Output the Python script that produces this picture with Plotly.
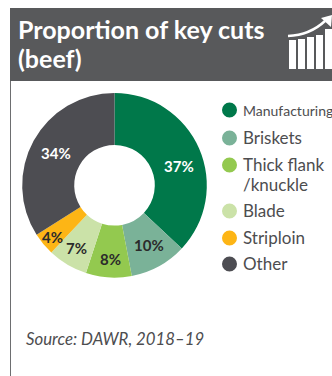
import math

import plotly.graph_objects as go

W, H = 332, 376

title_lines = ["Proportion of key cuts", "(beef)"]
cuts = ["Manufacturing", "Briskets", "Thick flank<br>/knuckle", "Blade", "Striploin", "Other"]
shares = [37, 10, 8, 7, 4, 34]
colours = ["#00784a", "#7ab298", "#93c94f", "#cbe2a8", "#fdb515", "#4d4d52"]
label_colours = ["#ffffff", "#2b2b2b", "#2b2b2b", "#2b2b2b", "#2b2b2b", "#ffffff"]

# layout of the legend, the share labels and the header icon, in pixels
legend_rows = [110, 138, 165, 211, 238, 264]
text_rows = [110, 137.5, 164.5, 210.5, 237.5, 263.5]
text_sizes = [14, 17, 17, 17, 17, 17]
label_nudges = [(4, 7), (3, 2), (0, 8), (-4, 6), (-11, 9), (0, 0)]
icon_bars = [(289, 296, 40), (298, 305, 39), (307, 314, 37), (316, 323, 35), (325, 332, 29)]

FONT = "Lato, 'Open Sans', sans-serif"
GREY = "#58595b"
CX, CY, R_OUT, R_IN = 114.5, 185.3, 92.3, 40.3


def px(x):
    return x / W


def py(y):
    return 1 - y / H


shapes = [
    dict(type="rect", xref="paper", yref="paper", x0=px(10), x1=px(W), y0=py(81), y1=py(8),
         fillcolor=GREY, line_width=0, layer="below"),
    dict(type="line", xref="paper", yref="paper", x0=px(10.5), x1=px(10.5), y0=py(81), y1=0,
         line=dict(color="#6d6e70", width=1)),
]

# header icon: columns under a rising arrow
for x0, x1, top in icon_bars:
    shapes.append(dict(type="rect", xref="paper", yref="paper", x0=px(x0), x1=px(x1),
                       y0=py(69), y1=py(top), fillcolor="#ffffff", line_width=0))
shapes.append(dict(type="path", xref="paper", yref="paper",
                   path=f"M {px(288)} {py(36)} Q {px(310)} {py(35)} {px(325)} {py(21)}",
                   line=dict(color="#ffffff", width=2.5)))
shapes.append(dict(type="path", xref="paper", yref="paper",
                   path=f"M {px(321)} {py(18)} L {px(332)} {py(15)} L {px(331)} {py(27)} Z",
                   fillcolor="#ffffff", line_width=0))

# legend swatches
for colour, cy in zip(colours, legend_rows):
    shapes.append(dict(type="circle", xref="paper", yref="paper",
                       x0=px(222), x1=px(237), y0=py(cy + 7.5), y1=py(cy - 7.5),
                       fillcolor=colour, line_width=0))

annotations = [
    dict(text="<i>Source: DAWR, 2018–19</i>", x=px(24), y=py(338), xref="paper", yref="paper",
         xanchor="left", yanchor="middle", showarrow=False,
         font=dict(family=FONT, size=16.8, color="#4d4d4f")),
]
for line, cy in zip(title_lines, [29, 58]):
    annotations.append(dict(text=f"<b>{line}</b>", x=px(16), y=py(cy), xref="paper", yref="paper",
                            xanchor="left", yanchor="middle", showarrow=False,
                            font=dict(family=FONT, size=25, color="#ffffff")))
for cut, cy, size in zip(cuts, text_rows, text_sizes):
    # wrapped legend entries are set line by line for a tight leading
    for i, line in enumerate(cut.split("<br>")):
        annotations.append(dict(text=line, x=px(241), y=py(cy + i * 20), xref="paper", yref="paper",
                                xanchor="left", yanchor="middle", showarrow=False,
                                font=dict(family=FONT, size=size, color="#4d4d4f")))

# share labels sit near the middle of each wedge's ring, so small wedges keep full-size text
running = 0
total = sum(shares)
for value, colour, (dx, dy) in zip(shares, label_colours, label_nudges):
    angle = 2 * math.pi * (running + value / 2) / total
    running += value
    ring = (R_OUT + R_IN) / 2
    annotations.append(dict(text=f"<b>{value}%</b>",
                            x=px(CX + ring * math.sin(angle) + dx),
                            y=py(CY - ring * math.cos(angle) + dy),
                            xref="paper", yref="paper", xanchor="center", yanchor="middle",
                            showarrow=False, font=dict(family=FONT, size=15, color=colour)))

fig = go.Figure(go.Pie(
    labels=cuts,
    values=shares,
    textinfo="none",
    marker=dict(colors=colours, line=dict(width=0)),
    hole=R_IN / R_OUT,
    sort=False,
    direction="clockwise",
    rotation=0,
    domain=dict(x=[px(CX - R_OUT), px(CX + R_OUT)], y=[py(CY + R_OUT), py(CY - R_OUT)]),
    showlegend=False,
))

fig.update_layout(
    width=W, height=H,
    margin=dict(l=0, r=0, t=0, b=0),
    paper_bgcolor="#ffffff",
    shapes=shapes,
    annotations=annotations,
)

fig.write_html("out.html", config=dict(displayModeBar=False))
